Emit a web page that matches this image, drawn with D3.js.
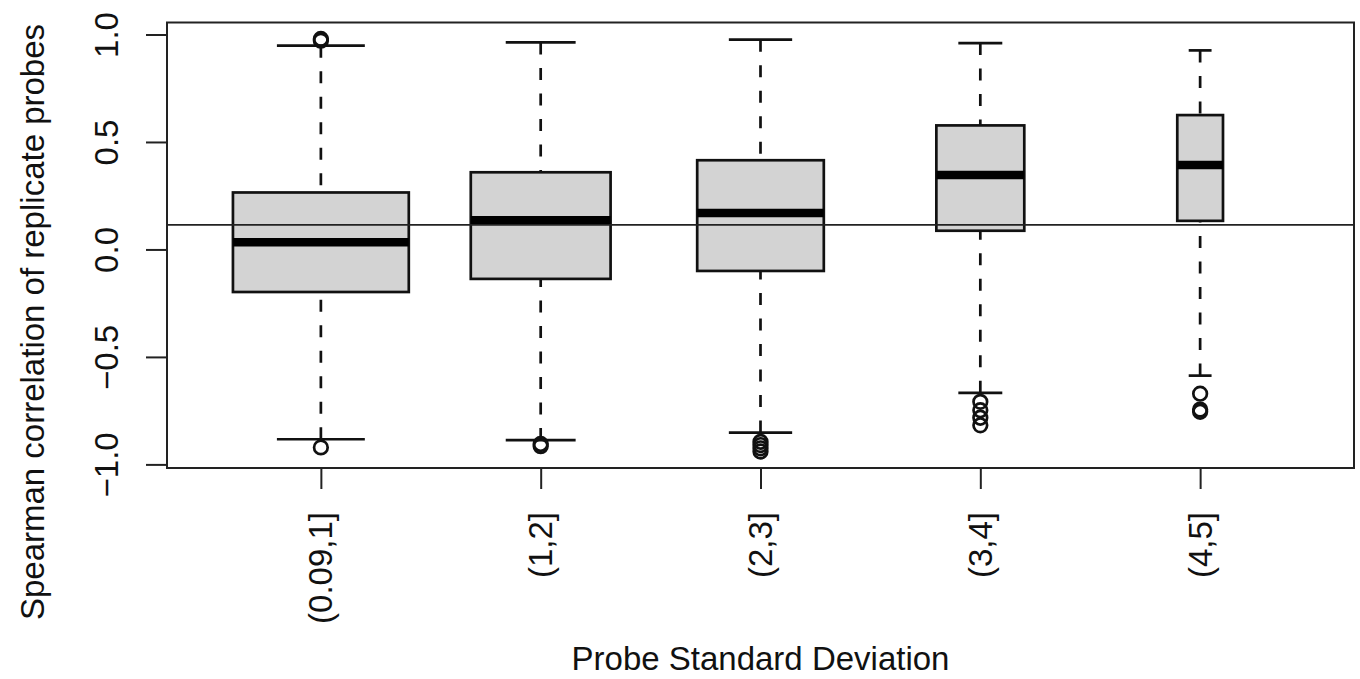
<!DOCTYPE html>
<html><head><meta charset="utf-8">
<script src="https://cdn.jsdelivr.net/npm/d3@7"></script>
<style>
body{margin:0;background:#fff}
svg{display:block}
text{font-family:"Liberation Sans",Arial,Helvetica,sans-serif;fill:#111}
</style>
</head><body>
<svg id="chart" width="1360" height="679"></svg>
<script>
// ---- data ----
const categories = ["(0.09,1]", "(1,2]", "(2,3]", "(3,4]", "(4,5]"];
const whiskerLow  = [-0.883, -0.887, -0.852, -0.667, -0.587];
const q1          = [-0.198, -0.137, -0.100,  0.087,  0.133];
const median      = [ 0.033,  0.136,  0.169,  0.346,  0.393];
const q3          = [ 0.265,  0.359,  0.415,  0.577,  0.625];
const whiskerHigh = [ 0.948,  0.963,  0.976,  0.960,  0.926];
const outliers = [
  [0.971, 0.979, -0.921],
  [-0.905, -0.915],
  [-0.895, -0.910, -0.925, -0.940],
  [-0.709, -0.748, -0.783, -0.818],
  [-0.671, -0.745, -0.755]
];
const relWidth = [1, 0.795, 0.72, 0.5, 0.26];   // sqrt(n) relative group sizes (varwidth)
const refLine = 0.114;
const yTicks = [-1, -0.5, 0, 0.5, 1];
const yTickLabels = ["\u22121.0", "\u22120.5", "0.0", "0.5", "1.0"];
const xTitle = "Probe Standard Deviation";
const yTitle = "Spearman correlation of replicate probes";

// ---- layout ----
const svg = d3.select("#chart");
const L = 167, R = 1354, T = 22.5, B = 468;
const FS = 33;

const allVals = whiskerLow.concat(whiskerHigh, outliers.flat());
const lo = d3.min(allVals), hi = d3.max(allVals), pad = (hi - lo) * 0.04;
const y = d3.scaleLinear().domain([lo - pad, hi + pad]).range([B, T]);
const n = categories.length;
const x = d3.scaleLinear().domain([0.3, n + 0.7]).range([L, R]);
const unit = x(1) - x(0);

const boxes = categories.map((c, i) => ({
  c, i, lo: whiskerLow[i], q1: q1[i], med: median[i], q3: q3[i], hi: whiskerHigh[i],
  out: outliers[i], w: 0.8 * relWidth[i]
}));

const g = svg.append("g");

// whiskers (dashed), drawn from whisker end towards box
const wk = g.selectAll(".wk").data(boxes).enter().append("g");
wk.append("line")
  .attr("x1", d => x(d.i + 1)).attr("x2", d => x(d.i + 1))
  .attr("y1", d => y(d.lo)).attr("y2", d => y(d.q1))
  .attr("stroke", "#111").attr("stroke-width", 2.7).attr("stroke-dasharray", "12,13.5");
wk.append("line")
  .attr("x1", d => x(d.i + 1)).attr("x2", d => x(d.i + 1))
  .attr("y1", d => y(d.hi)).attr("y2", d => y(d.q3))
  .attr("stroke", "#111").attr("stroke-width", 2.7).attr("stroke-dasharray", "12,13.5");
// staples
["lo", "hi"].forEach(k => {
  wk.append("line")
    .attr("x1", d => x(d.i + 1 - d.w / 4)).attr("x2", d => x(d.i + 1 + d.w / 4))
    .attr("y1", d => y(d[k])).attr("y2", d => y(d[k]))
    .attr("stroke", "#111").attr("stroke-width", 2.7);
});
// boxes
g.selectAll(".box").data(boxes).enter().append("rect")
  .attr("x", d => x(d.i + 1 - d.w / 2))
  .attr("width", d => d.w * unit)
  .attr("y", d => y(d.q3))
  .attr("height", d => y(d.q1) - y(d.q3))
  .attr("fill", "#d3d3d3").attr("stroke", "#111").attr("stroke-width", 2.7);
// medians
g.selectAll(".med").data(boxes).enter().append("line")
  .attr("x1", d => x(d.i + 1 - d.w / 2)).attr("x2", d => x(d.i + 1 + d.w / 2))
  .attr("y1", d => y(d.med)).attr("y2", d => y(d.med))
  .attr("stroke", "#000").attr("stroke-width", 8.5);
// outliers
const outPts = boxes.flatMap(d => d.out.map(v => ({ i: d.i, v })));
g.selectAll(".out").data(outPts).enter().append("circle")
  .attr("cx", d => x(d.i + 1)).attr("cy", d => y(d.v)).attr("r", 6.8)
  .attr("fill", "none").attr("stroke", "#111").attr("stroke-width", 2.7);

// reference line
g.append("line").attr("x1", L).attr("x2", R).attr("y1", y(refLine)).attr("y2", y(refLine))
  .attr("stroke", "#222").attr("stroke-width", 1.8);

// plot border
svg.append("rect").attr("x", L).attr("y", T).attr("width", R - L).attr("height", B - T)
  .attr("fill", "none").attr("stroke", "#222").attr("stroke-width", 2);

// y axis
const yAxis = d3.axisLeft(y).tickValues(yTicks).tickSize(21).tickFormat((d, i) => yTickLabels[i]);
const ya = svg.append("g").attr("transform", `translate(${L},0)`).call(yAxis);
ya.select(".domain").remove();
ya.selectAll(".tick line").attr("stroke", "#222").attr("stroke-width", 2);
ya.selectAll(".tick text")
  .attr("font-size", FS).attr("fill", "#111")
  .attr("x", null).attr("dy", null)
  .attr("transform", `translate(${118 - L},0) rotate(-90)`)
  .attr("text-anchor", "middle").attr("y", 0);

// x axis
const xAxis = d3.axisBottom(x).tickValues(d3.range(1, n + 1)).tickSize(21).tickFormat(d => categories[d - 1]);
const xa = svg.append("g").attr("transform", `translate(0,${B})`).call(xAxis);
xa.select(".domain").remove();
xa.selectAll(".tick line").attr("stroke", "#222").attr("stroke-width", 2);
xa.selectAll(".tick text")
  .attr("font-size", FS).attr("fill", "#111")
  .attr("y", null).attr("dy", null)
  .attr("transform", `translate(11,${512 - B}) rotate(-90)`)
  .attr("text-anchor", "end").attr("x", 0);

// titles
svg.append("text").attr("x", (L + R) / 2).attr("y", 670).attr("text-anchor", "middle")
  .attr("font-size", FS).text(xTitle);
svg.append("text").attr("transform", "translate(44,322) rotate(-90)").attr("text-anchor", "middle")
  .attr("font-size", FS).text(yTitle);
</script>
</body></html>
